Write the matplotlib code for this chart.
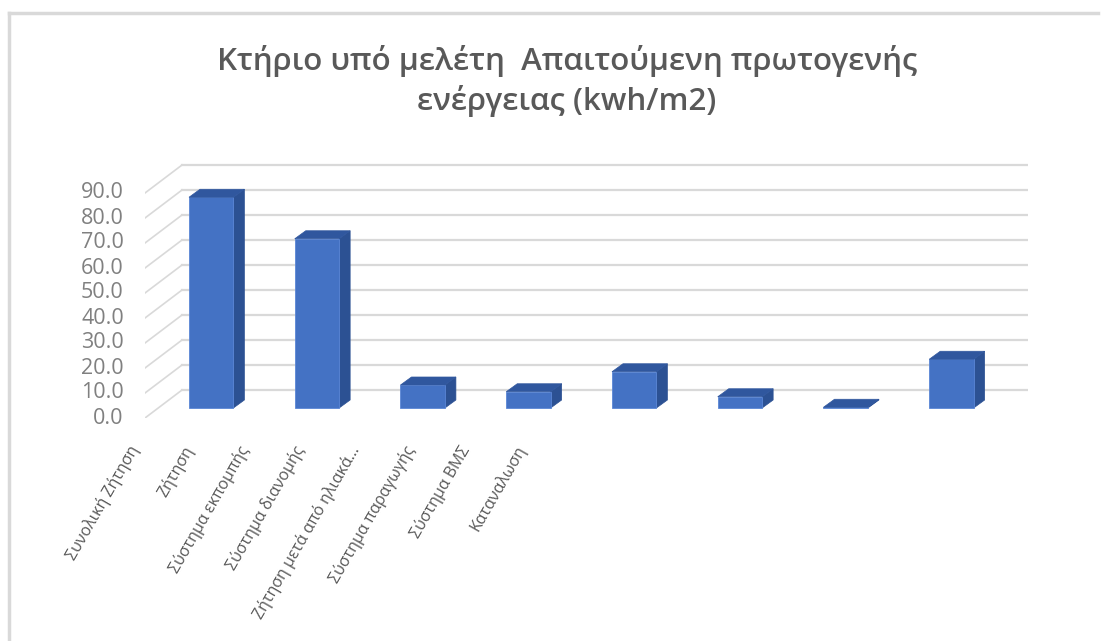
import numpy as np
import matplotlib.pyplot as plt
from matplotlib.patches import Polygon
from matplotlib.lines import Line2D

plt.rcParams['font.family'] = ['Open Sans', 'DejaVu Sans']

categories = ['Συνολική Ζήτηση', 'Ζήτηση', 'Σύστημα εκπομπής', 'Σύστημα διανομής',
              'Ζήτηση μετά από ηλιακά...', 'Σύστημα παραγωγής', 'Σύστημα ΒΜΣ', 'Καταναλωση']
values = [84.3, 67.7, 9.2, 6.5, 14.5, 4.5, 0.3, 19.5]
yticks = np.arange(0, 100, 10)

# fake 3d: depth of the wall box and of a single bar, in data units (x, y)
wall_dx, wall_dy = 0.35, 11.2
bar_dx, bar_dy = 0.104, 3.2
bar_x0, bar_y0 = 0.126, 4.0   # front face of the bars sits inside the box
bar_w = 0.42

front_c = '#4472c4'
side_c = '#2c5193'
top_c = '#30579e'
grid_c = '#d9d9d9'

fig = plt.figure(figsize=(11.04, 6.41), dpi=100)
ax = fig.add_axes([145/1104, (641-418)/641, 883/1104, 255/641])
ax.set_xlim(0, 8.35)
ax.set_ylim(0, 102)
ax.axis('off')

# back wall and left side wall gridlines
for v in yticks:
    ax.plot([wall_dx, wall_dx + len(categories)], [v + wall_dy, v + wall_dy],
            color=grid_c, lw=1.6, zorder=1)
    ax.plot([0, wall_dx], [v, v + wall_dy], color=grid_c, lw=1.2, zorder=1)
    ax.text(-0.2, v, f'{v:.1f}', ha='right', va='center', fontsize=15.5,
            color='#808080')

for i, val in enumerate(values):
    x0 = i + 0.5 - bar_w / 2 + bar_x0
    x1 = x0 + bar_w
    y0 = bar_y0
    y1 = bar_y0 + val
    front = [(x0, y0), (x1, y0), (x1, y1), (x0, y1)]
    side = [(x1, y0), (x1 + bar_dx, y0 + bar_dy), (x1 + bar_dx, y1 + bar_dy), (x1, y1)]
    top = [(x0, y1), (x1, y1), (x1 + bar_dx, y1 + bar_dy), (x0 + bar_dx, y1 + bar_dy)]
    ax.add_patch(Polygon(side, closed=True, fc=side_c, ec=side_c, lw=0.5, zorder=3))
    ax.add_patch(Polygon(front, closed=True, fc=front_c, ec='#5a86d6', lw=0.6, zorder=3))
    ax.add_patch(Polygon(top, closed=True, fc=top_c, ec=top_c, lw=0.5, zorder=3))

# category labels
for i, lab in enumerate(categories):
    ax.text(-0.095 + 0.523 * i, -11.6, lab, rotation=60, rotation_mode='anchor',
            ha='right', va='center', fontsize=11.5, color='#595959', clip_on=False)

fig.text(567/1104, 1 - 81/641, 'Κτήριο υπό μελέτη  Απαιτούμενη πρωτογενής\nενέργειας (kwh/m2)',
         ha='center', va='center', fontsize=22.5, fontweight='semibold',
         color='#595959', linespacing=1.3)

# chart area border (top and left edge)
fig.add_artist(Line2D([9/1104, 1098/1104], [1 - 13/641, 1 - 13/641], color=grid_c, lw=2.5))
fig.add_artist(Line2D([9/1104, 9/1104], [0, 1 - 13/641], color=grid_c, lw=2.5))

fig.savefig('out.png', dpi=100)
